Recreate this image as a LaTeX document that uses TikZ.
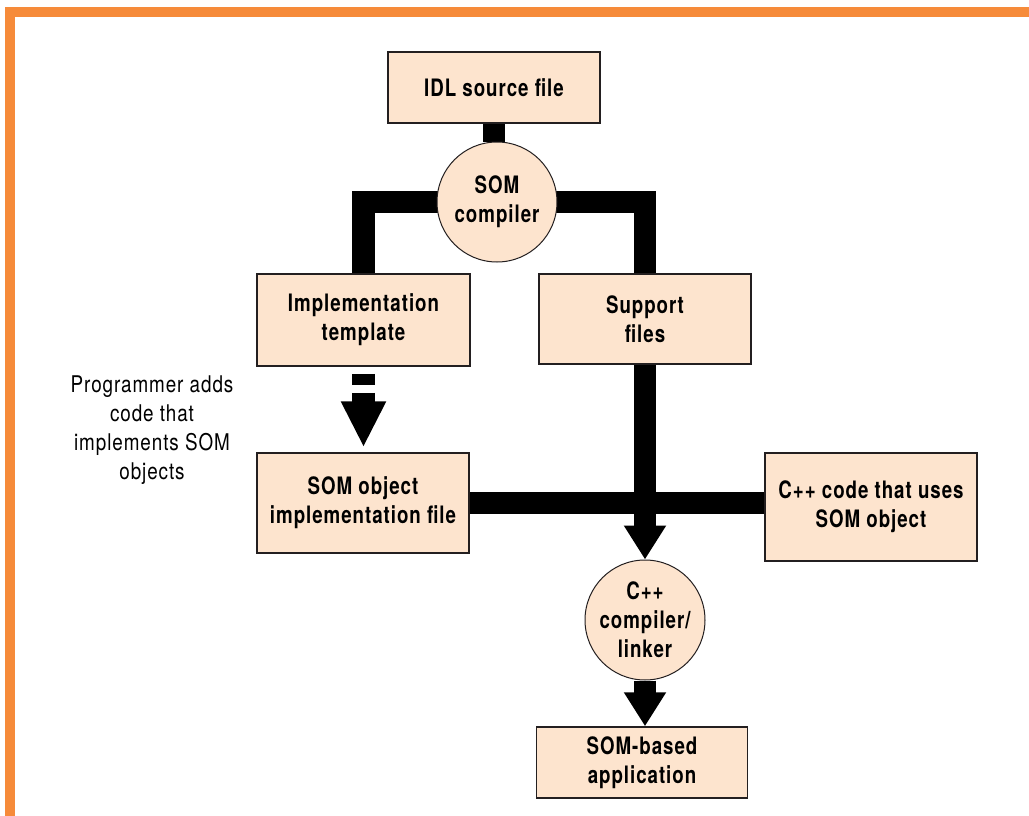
\documentclass[tikz,border=0pt]{standalone}
\usepackage{fontspec}
\setmainfont{TeX Gyre Heros}[FakeStretch=0.78, LetterSpace=4]
\newfontfamily\notefont{TeX Gyre Heros}[FakeStretch=0.82, LetterSpace=4]
\usetikzlibrary{arrows.meta,calc}
\definecolor{frameorange}{HTML}{F68B3A}
\definecolor{boxfill}{HTML}{FDE4CE}
\definecolor{edge}{HTML}{231F20}
\pgfdeclarelayer{back}
\pgfdeclarelayer{links}
\pgfsetlayers{back,links,main}

\begin{document}
\begin{tikzpicture}[x=1pt, y=-1pt,
  boldtxt/.style={font=\fontsize{24}{29}\selectfont\bfseries},
  box/.style={rectangle, draw=edge, line width=1.5pt, fill=boxfill,
    inner sep=0pt, align=center, boldtxt},
  hub/.style={circle, draw=edge, line width=1pt, fill=boxfill,
    minimum size=120pt, inner sep=0pt},
  hubtext/.style={align=center, boldtxt},
  note/.style={align=center, font=\notefont\fontsize{23}{29}\selectfont},
  bar/.style={line width=22.5pt, black, line cap=butt, line join=miter},
  head/.style={-{Triangle[width=40pt, length=34pt]}},
]
\useasboundingbox (0,0) rectangle (1029,816);

% page and orange frame
\begin{pgfonlayer}{back}
  \fill[white] (0,0) rectangle (1029,816);
  \fill[frameorange] (4.5,7) rectangle (1029,17.5);
  \fill[frameorange] (4.5,7) rectangle (15,816);
\end{pgfonlayer}

% boxes
\node[box, minimum width=212pt, minimum height=71pt]  (idl)     at (494,87.5)  {IDL source file};
\node[box, minimum width=213pt, minimum height=92pt]  (impl)    at (363.5,320) {Implementation\\template};
\node[box, minimum width=212pt, minimum height=90pt]  (supp)    at (645,319)   {Support\\files};
\node[box, minimum width=212pt, minimum height=100pt] (somobj)  at (363,503)   {SOM object\\implementation file};
\node[box, minimum width=212pt, minimum height=108pt] (cppcode) at (871,507)   {C++ code that uses\\SOM object};
\node[box, minimum width=211pt, minimum height=71pt]  (app)     at (642,762.5) {SOM-based\\application};

% processing steps
\node[hub, label={[hubtext]center:SOM\\compiler}] (somc) at (497,202) {};
\node[hub, label={[hubtext]center:C++\\compiler/\\linker}] (cppc) at (645,620) {};

% side note
\node[note] (progr) at (152,430) {Programmer adds\\code that\\implements SOM\\objects};

% connectors
\begin{pgfonlayer}{links}
  \draw[bar] (idl.south) -- (idl.south |- somc.north);
  \draw[bar] (somc.center) -| (impl.north);
  \draw[bar] (somc.center) -| (supp.north);
  \draw[bar, head] (supp.south) -- (cppc.north);
  \draw[bar] (somobj.east) -- (somobj.east -| cppcode.west);
  \draw[bar, head] (cppc.south) -- (cppc.south |- app.north);
  \draw[bar, -{Triangle[width=42pt, length=46pt]},
        dash pattern=on 11pt off 8pt, dash phase=12pt, shorten >=5pt]
    (impl.south) -- (impl.south |- somobj.north);
\end{pgfonlayer}
\end{tikzpicture}
\end{document}
